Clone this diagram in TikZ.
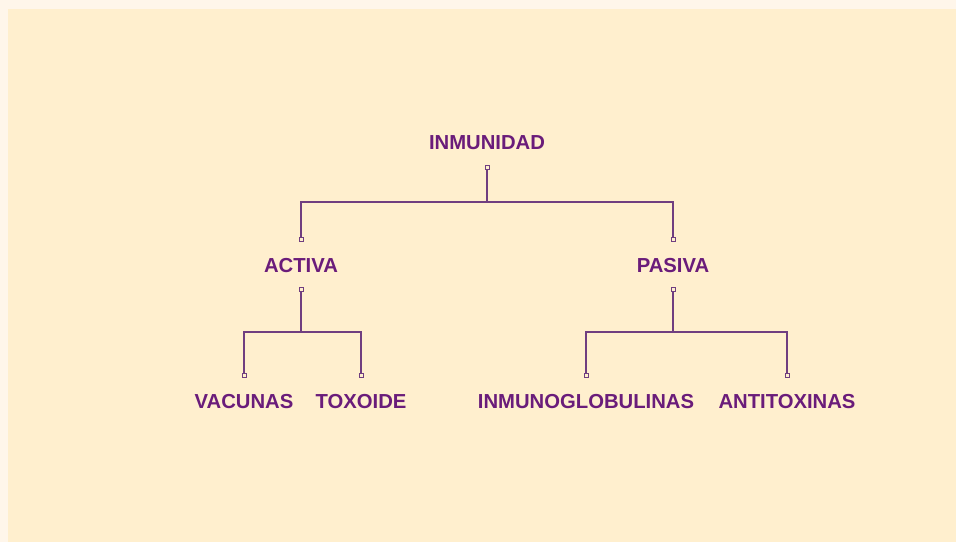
\documentclass[tikz,border=0pt]{standalone}
\usepackage{fontspec}
\setmainfont{Liberation Sans}
\usetikzlibrary{positioning}
\definecolor{paper}{RGB}{255,246,234}
\definecolor{panel}{RGB}{255,239,206}
\definecolor{plum}{RGB}{106,28,122}
\definecolor{wire}{RGB}{112,62,128}
\tikzset{lbl/.style={font=\bfseries\fontsize{15.2}{17}\selectfont, text=plum,
    inner sep=0pt, text height=10.9pt, text depth=0pt, anchor=center},
  tab/.style={rectangle, draw=wire, fill=panel, line width=0.6pt,
    minimum size=3pt, inner sep=0pt},
  link/.style={draw=wire, line width=0.85pt}}

\begin{document}
\begin{tikzpicture}[x=0.75pt,y=-0.75pt]
  % background
  \fill[paper] (0,0) rectangle (956,542);
  \fill[panel] (8,9) rectangle (956,542);
  \useasboundingbox (0,0) rectangle (956,542);

  % labels
  \node[lbl] (inm)  at (487,142) {INMUNIDAD};
  \node[lbl] (act)  at (301,265) {ACTIVA};
  \node[lbl] (pas)  at (673,265) {PASIVA};
  \node[lbl] (vac)  at (244,401) {VACUNAS};
  \node[lbl] (tox)  at (361,401) {TOXOIDE};
  \node[lbl] (igs)  at (586,401) {INMUNOGLOBULINAS};
  \node[lbl] (atx)  at (787,401) {ANTITOXINAS};

  % tabs
  \node[tab] (inmB) at (487,167) {};
  \node[tab] (actT) at (301,239) {};
  \node[tab] (pasT) at (673,239) {};
  \node[tab] (actB) at (301,289) {};
  \node[tab] (pasB) at (673,289) {};
  \node[tab] (vacT) at (244,375) {};
  \node[tab] (toxT) at (361,375) {};
  \node[tab] (igsT) at (586,375) {};
  \node[tab] (atxT) at (787,375) {};

  \coordinate (bus0) at (487,202);
  \coordinate (bus1) at (301,332);
  \coordinate (bus2) at (673,332);

  \path[link] (inmB) -- (bus0) -| (actT)
              (bus0) -| (pasT)
              (actB) -- (bus1) -| (vacT)
              (bus1) -| (toxT)
              (pasB) -- (bus2) -| (igsT)
              (bus2) -| (atxT);
\end{tikzpicture}
\end{document}
